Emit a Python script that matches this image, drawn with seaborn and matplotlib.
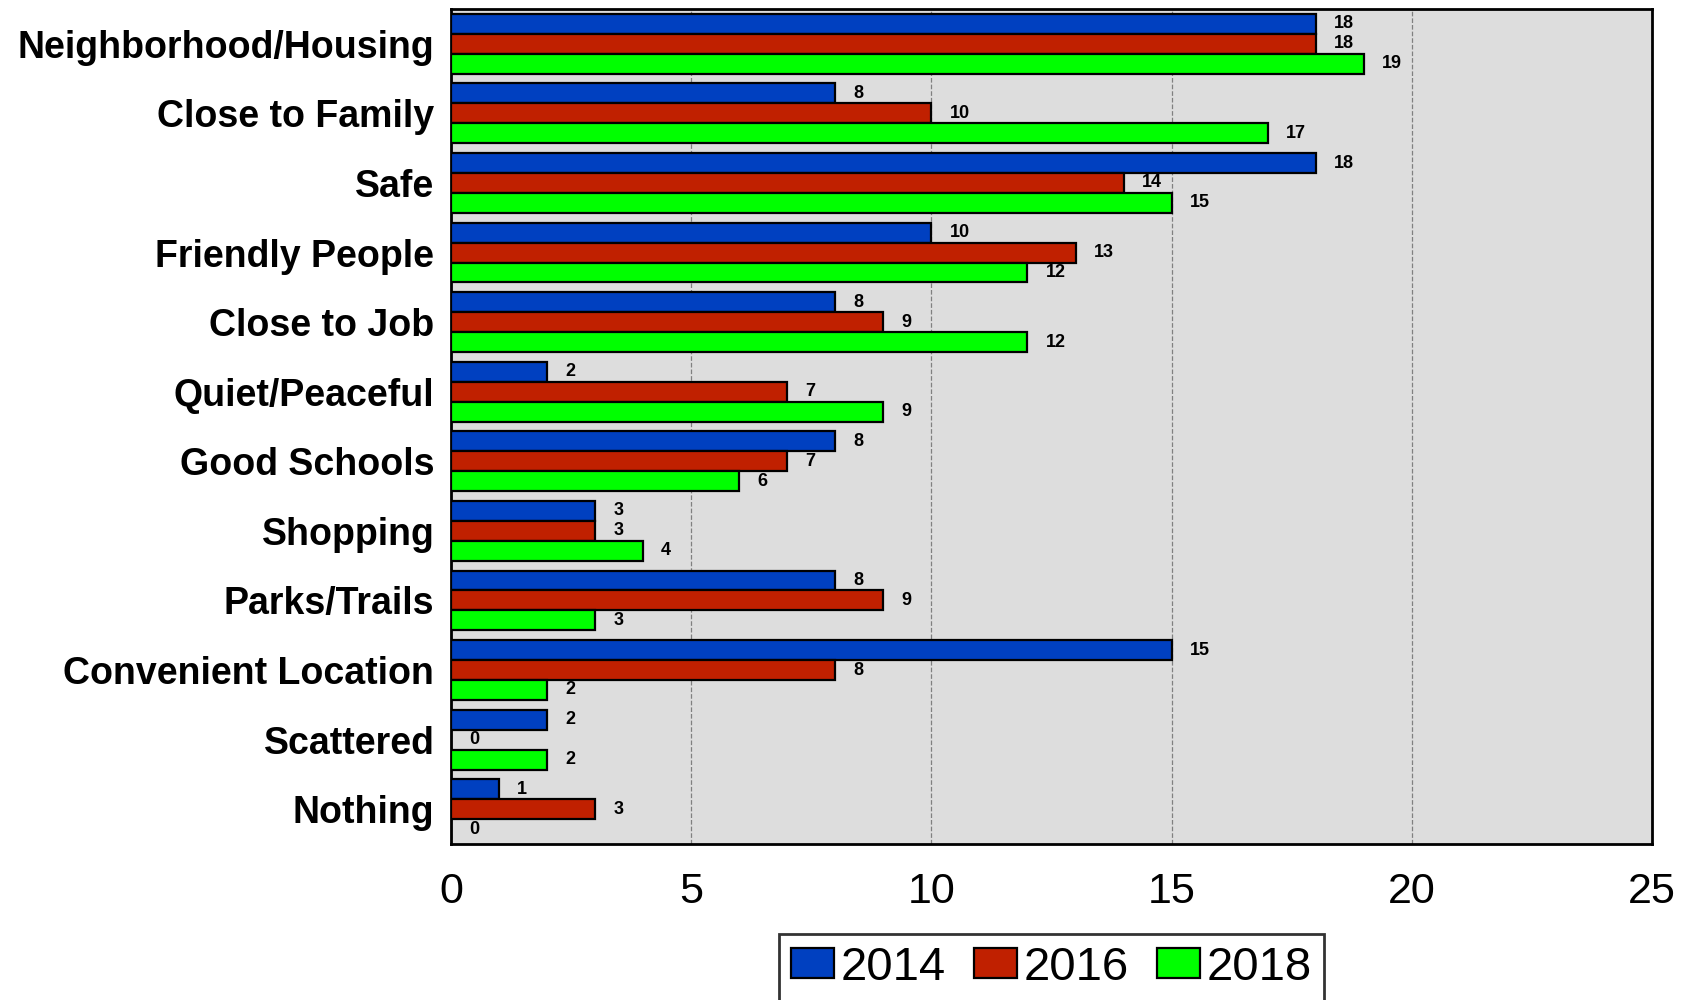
import pandas as pd
import matplotlib.pyplot as plt
import seaborn as sns

# %%
categories = ["Neighborhood/Housing", "Close to Family", "Safe", "Friendly People",
              "Close to Job", "Quiet/Peaceful", "Good Schools", "Shopping",
              "Parks/Trails", "Convenient Location", "Scattered", "Nothing"]
years = ["2014", "2016", "2018"]
v2014 = [18, 8, 18, 10, 8, 2, 8, 3, 8, 15, 2, 1]
v2016 = [18, 10, 14, 13, 9, 7, 7, 3, 9, 8, 0, 3]
v2018 = [19, 17, 15, 12, 12, 9, 6, 4, 3, 2, 2, 0]
colors = ["#0040C0", "#C02000", "#00FF00"]

df = pd.DataFrame({"category": categories, "2014": v2014, "2016": v2016, "2018": v2018})
long_df = df.melt(id_vars="category", var_name="year", value_name="count")

# %%
sns.set_style("white")
plt.rcParams["font.family"] = ["Liberation Sans", "DejaVu Sans"]
plt.rcParams["text.color"] = "black"
plt.rcParams["xtick.color"] = "black"
plt.rcParams["ytick.color"] = "black"

fig = plt.figure(figsize=(16.92, 10), dpi=100)
ax = fig.add_axes([451 / 1692, 1 - 844 / 1000, (1652 - 451) / 1692, (844 - 9) / 1000])
ax.set_facecolor("#DDDDDD")

sns.barplot(long_df, y="category", x="count", hue="year", hue_order=years,
            palette=colors, saturation=1, orient="h", width=0.86, edgecolor="black",
            linewidth=1.6, ax=ax, zorder=3)

for cont in ax.containers:
    ax.bar_label(cont, padding=13, fontsize=13, fontweight="bold", color="black")

ax.set_xlim(0, 25)
ax.set_xticks([0, 5, 10, 15, 20, 25])
ax.grid(axis="x", linestyle="--", color="#808080", linewidth=0.9, zorder=0)
ax.set_axisbelow(True)
ax.set_xlabel("")
ax.set_ylabel("")
ax.tick_params(axis="y", length=0, pad=12, labelsize=27)
ax.tick_params(axis="x", length=0, pad=20, labelsize=31)
for lab in ax.get_yticklabels():
    lab.set_fontweight("bold")
for sp in ax.spines.values():
    sp.set_color("black")
    sp.set_linewidth(2)

leg = ax.legend(loc="upper center", bbox_to_anchor=(0.5, -0.108), ncol=3,
                fontsize=34, frameon=True, fancybox=False, edgecolor="black",
                handlelength=0.9, handleheight=0.6, handletextpad=0.15,
                columnspacing=0.6, borderpad=0.25, borderaxespad=0)
leg.get_frame().set_linewidth(2)

plt.savefig("out.png", dpi=100)
